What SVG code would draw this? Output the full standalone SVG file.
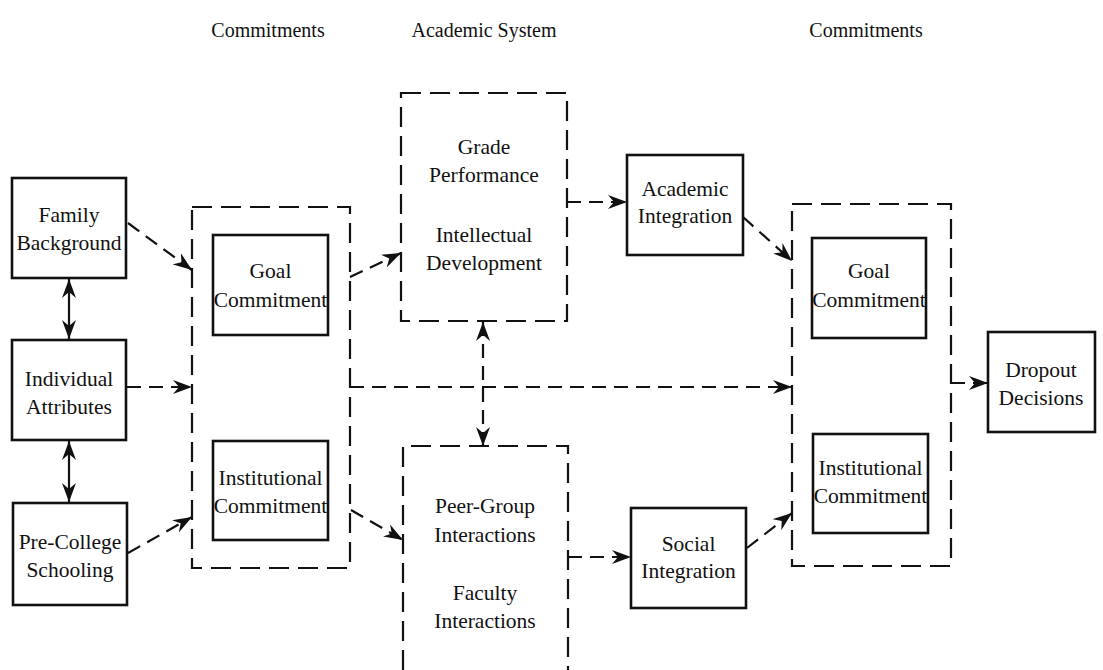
<svg xmlns="http://www.w3.org/2000/svg" width="1103" height="670" viewBox="0 0 1103 670">
<style>
text{font-family:"Liberation Serif","Times New Roman",serif;font-size:21.5px;fill:#111;text-anchor:middle}
.hdr{font-size:20px}
.box{fill:none;stroke:#111;stroke-width:2.6}
.grp{fill:none;stroke:#111;stroke-width:2.2;stroke-dasharray:20 9}
.dc{fill:none;stroke:#111;stroke-width:2.2;stroke-dasharray:14 8}
.sc{fill:none;stroke:#111;stroke-width:2.2}
</style>
<defs>
<marker id="ah" viewBox="0 0 19 14" refX="19" refY="7" markerWidth="19" markerHeight="14" markerUnits="userSpaceOnUse" orient="auto-start-reverse">
<path d="M0,0 L19,7 L0,14 L6,7 z" fill="#111"/>
</marker>
</defs>
<rect width="1103" height="670" fill="#fff"/>
<g id="headers">
<text class="hdr" x="268" y="37">Commitments</text>
<text class="hdr" x="484" y="37">Academic System</text>
<text class="hdr" x="866" y="37">Commitments</text>
</g>
<g id="family">
<rect class="box" x="12" y="178" width="114" height="100"/>
<text x="69" y="222">Family</text><text x="69" y="250">Background</text>
</g>
<g id="individual">
<rect class="box" x="12" y="340" width="114" height="100"/>
<text x="69" y="386">Individual</text><text x="69" y="414">Attributes</text>
</g>
<g id="precollege">
<rect class="box" x="13" y="503" width="114" height="102"/>
<text x="70" y="549">Pre-College</text><text x="70" y="577">Schooling</text>
</g>
<g id="commit-left">
<rect class="grp" x="192" y="207" width="158" height="361"/>
<g id="goal-left">
<rect class="box" x="213" y="235" width="115" height="100"/>
<text x="270.5" y="278">Goal</text><text x="270.5" y="307">Commitment</text>
</g>
<g id="inst-left">
<rect class="box" x="213" y="441" width="115" height="99"/>
<text x="270.5" y="485">Institutional</text><text x="270.5" y="513">Commitment</text>
</g>
</g>
<g id="academic-system">
<rect class="grp" x="401" y="93" width="166" height="228"/>
<text x="484" y="154">Grade</text><text x="484" y="182">Performance</text>
<text x="484" y="242">Intellectual</text><text x="484" y="270">Development</text>
</g>
<g id="social-system">
<path class="grp" d="M403,670 V446 H568 V670"/>
<text x="485" y="513">Peer-Group</text><text x="485" y="542">Interactions</text>
<text x="485" y="600">Faculty</text><text x="485" y="628">Interactions</text>
</g>
<g id="academic-integration">
<rect class="box" x="627" y="155" width="116" height="100"/>
<text x="685" y="196">Academic</text><text x="685" y="223">Integration</text>
</g>
<g id="social-integration">
<rect class="box" x="631" y="508" width="115" height="100"/>
<text x="688.5" y="551">Social</text><text x="688.5" y="578">Integration</text>
</g>
<g id="commit-right">
<rect class="grp" x="792" y="204" width="159" height="362"/>
<g id="goal-right">
<rect class="box" x="812" y="238" width="114" height="100"/>
<text x="869" y="278">Goal</text><text x="869" y="307">Commitment</text>
</g>
<g id="inst-right">
<rect class="box" x="813" y="434" width="115" height="99"/>
<text x="870.5" y="475">Institutional</text><text x="870.5" y="503">Commitment</text>
</g>
</g>
<g id="dropout">
<rect class="box" x="988" y="332" width="107" height="100"/>
<text x="1041" y="377">Dropout</text><text x="1041" y="405">Decisions</text>
</g>
<g id="connectors">
<path class="sc" d="M69,279 V339" marker-start="url(#ah)" marker-end="url(#ah)"/>
<path class="sc" d="M69,441 V502" marker-start="url(#ah)" marker-end="url(#ah)"/>
<path class="dc" d="M128,223 L192,270" marker-end="url(#ah)"/>
<path class="dc" d="M127,387 L192,387" marker-end="url(#ah)"/>
<path class="dc" d="M128,553 L192,517" marker-end="url(#ah)"/>
<path class="dc" d="M350,277 L401,253" marker-end="url(#ah)"/>
<path class="dc" d="M351,510 L403,540" marker-end="url(#ah)"/>
<path class="dc" d="M567,202 L627,202" marker-end="url(#ah)"/>
<path class="dc" d="M568,557 L631,557" marker-end="url(#ah)"/>
<path class="dc" d="M743,217 L792,261" marker-end="url(#ah)"/>
<path class="dc" d="M747,548 L792,513" marker-end="url(#ah)"/>
<path class="dc" d="M483,322 V446" marker-start="url(#ah)" marker-end="url(#ah)"/>
<path class="dc" d="M350,387 H792" marker-end="url(#ah)"/>
<path class="dc" d="M951,383 H988" marker-end="url(#ah)"/>
</g>
</svg>
